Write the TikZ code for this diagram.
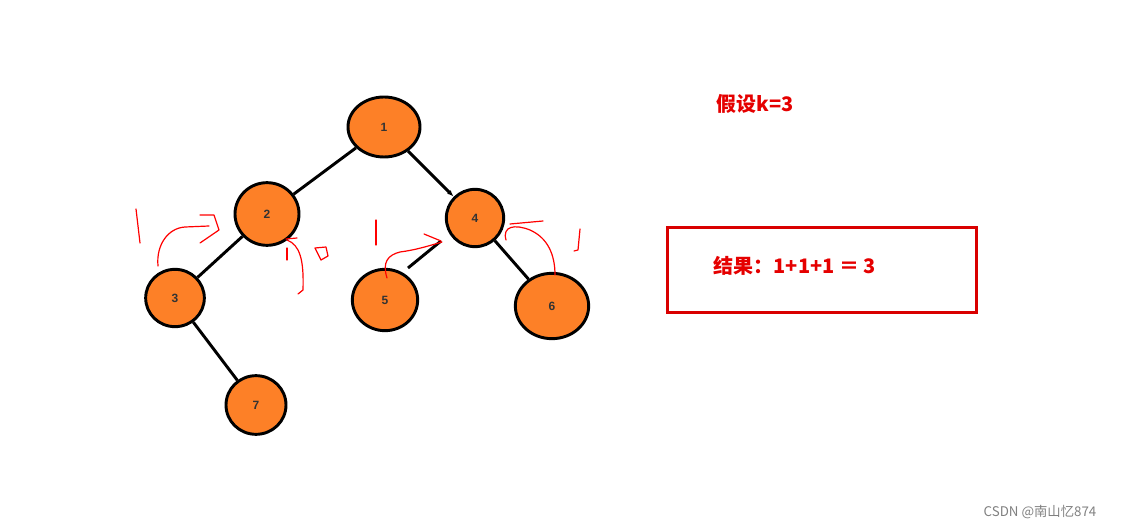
\documentclass[tikz,border=0pt]{standalone}
\usepackage{fontspec}
\setmainfont{Liberation Sans}
\newfontfamily\cjk{Noto Sans CJK SC}
\usetikzlibrary{shapes.geometric,arrows.meta}
\definecolor{tor}{RGB}{253,128,39}
\begin{document}
\begin{tikzpicture}[x=0.75pt,y=-0.75pt,
  tn/.style={ellipse,draw=black,line width=2.2pt,fill=tor,inner sep=0pt,font=\bfseries\small,text=black!80},
  ed/.style={line width=2.2pt},
  sc/.style={red,line width=0.9pt,line cap=round,line join=round}]
\useasboundingbox (0,0) rectangle (1132,531);
\node[tn,minimum width=54pt,minimum height=45pt] (n1) at (384,127) {1};
\node[tn,minimum width=48pt,minimum height=47pt] (n2) at (267,214) {2};
\node[tn,minimum width=43pt,minimum height=43pt] (n4) at (475,218) {4};
\node[tn,minimum width=44pt,minimum height=43pt] (n3) at (175,298) {3};
\node[tn,minimum width=49pt,minimum height=46pt] (n5) at (385,300) {5};
\node[tn,minimum width=55pt,minimum height=49pt] (n6) at (552,306) {6};
\node[tn,minimum width=45pt,minimum height=44pt] (n7) at (256,405) {7};
\draw[ed] (n1) -- (n2);
\draw[ed,-{Latex[length=5pt]}] (n1) -- (n4);
\draw[ed] (n2) -- (n3);
\draw[ed] (n4) -- (n6);
\draw[ed] (n3) -- (n7);
\coordinate (a5) at (408,268); \coordinate (b5) at (441,241);
\draw[ed] (a5) -- (b5);
% red scribbles
\draw[sc] (136,209) -- (140,243);
\draw[sc] (158,266) .. controls (156,245) and (168,228) .. (185,227) -- (209,226);
\draw[sc] (200,215) -- (214,215) -- (219,230) -- (200,243);
\draw[sc] (286,239) -- (297,238);
\draw[sc] (287,240) .. controls (300,245) and (304,260) .. (303,290) -- (298,294);
\draw[sc] (287,248) -- (287,260);
\draw[sc] (315,248) -- (326,247) -- (328,256) -- (321,260) -- cycle;
\draw[sc] (376,220) -- (376,245);
\draw[sc] (387,278) .. controls (382,262) and (388,255) .. (400,252) .. controls (415,250) and (425,247) .. (442,242);
\draw[sc] (424,234) -- (441,241);
\draw[sc] (510,224) -- (543,221);
\draw[sc] (506,240) .. controls (502,226) and (515,224) .. (530,230) .. controls (548,238) and (555,255) .. (555,275);
\draw[sc] (580,229) -- (578,250) -- (574,251);
% text
\node[red!90!black,font=\cjk\bfseries\fontsize{15}{18}\selectfont] (t1) at (755,104) {假设k=3};
\node[draw=red!85!black,line width=2.2pt,minimum width=232pt,minimum height=64pt] (box) at (822,270) {};
\node[red!90!black,font=\cjk\bfseries\fontsize{15}{18}\selectfont,anchor=west] (t2) at (709,266) {结果：1+1+1 ＝ 3};
\node[gray,font=\cjk\fontsize{10}{12}\selectfont] (wm) at (1040,512) {CSDN @南山忆874};
\end{tikzpicture}
\end{document}
